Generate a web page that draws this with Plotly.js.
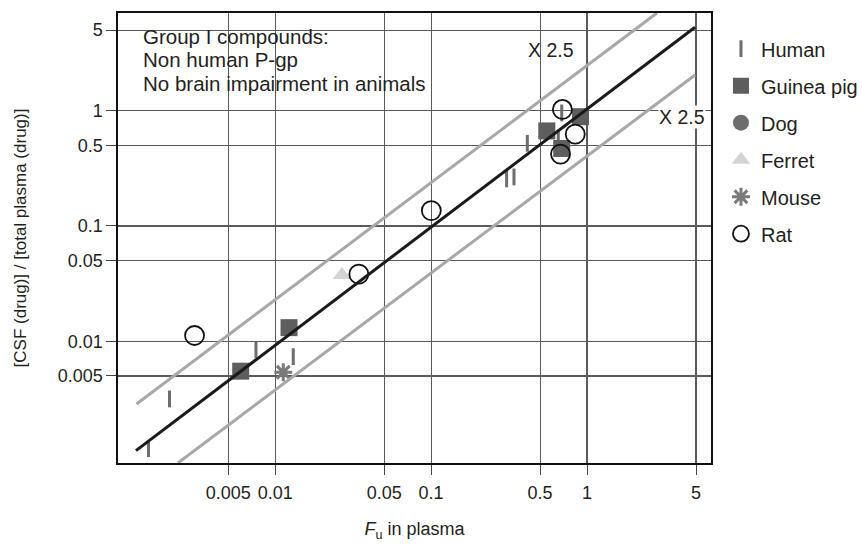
<!DOCTYPE html>
<html>
<head>
<meta charset="utf-8">
<script src="https://cdn.plot.ly/plotly-3.0.1.min.js"></script>
<style>
  html, body { margin: 0; padding: 0; background: #fff; }
  #chart { width: 862px; height: 544px; }
</style>
</head>
<body>
<div id="chart"></div>
<script>
// ---- Data ----
const tickVals = [0.005, 0.01, 0.05, 0.1, 0.5, 1, 5];
const tickText = ['0.005', '0.01', '0.05', '0.1', '0.5', '1', '5'];

const humanX = [0.00154, 0.00210, 0.00753, 0.01306, 0.305, 0.340, 0.414, 0.688, 0.654];
const humanY = [0.00117, 0.00316, 0.00841, 0.00735, 0.256, 0.266, 0.521, 0.955, 0.580];

const guineaX = [0.00601, 0.01227, 0.552, 0.908, 0.688];
const guineaY = [0.00550, 0.01312, 0.667, 0.887, 0.470];

const dogX = [null];
const dogY = [null];

const ferretX = [0.0268];
const ferretY = [0.0376];

const mouseX = [0.01127];
const mouseY = [0.00538];

const ratX = [0.00304, 0.0344, 0.1003, 0.695, 0.840, 0.676];
const ratY = [0.01122, 0.0382, 0.136, 1.024, 0.625, 0.420];

// unity line and x2.5 bands (end points)
const unityX = [0.00128, 4.93];
const unityY = [0.001125, 5.29];
const upperX = [0.00129, 2.81];
const upperY = [0.00286, 7.04];
const lowerX = [0.00238, 4.93];
const lowerY = [0.00088, 2.04];

const noteLines = ['Group I compounds:', 'Non human P-gp', 'No brain impairment in animals'];
const bandLabel = 'X 2.5';

const FONT = 'Liberation Sans, Arial, sans-serif';
const TXT = '#231f20';

const traces = [
  { name: 'Human', x: humanX, y: humanY, type: 'scatter', mode: 'markers', legendgroup: 'a',
    marker: { symbol: 'line-ns-open', size: 12, color: '#6d6d6d', line: { width: 3, color: '#6d6d6d' } } },
  { name: 'Guinea pig', x: guineaX, y: guineaY, type: 'scatter', mode: 'markers', legendgroup: 'b',
    marker: { symbol: 'square', size: 17, color: '#5e5e5e', line: { width: 0 } } },
  { name: 'Dog', x: dogX, y: dogY, type: 'scatter', mode: 'markers', legendgroup: 'c',
    marker: { symbol: 'circle', size: 16, color: '#6d6d6d', line: { width: 0 } } },
  { name: 'Ferret', x: ferretX, y: ferretY, type: 'scatter', mode: 'markers', legendgroup: 'd',
    marker: { symbol: 'triangle-up', size: 16, color: '#d4d4d4', line: { width: 0 } } },
  { name: 'Mouse', x: mouseX, y: mouseY, type: 'scatter', mode: 'markers', legendgroup: 'e',
    marker: { symbol: 'asterisk-open', size: 15, color: '#7a7a7a', line: { width: 3, color: '#7a7a7a' } } },
  { name: 'Rat', x: ratX, y: ratY, type: 'scatter', mode: 'markers', legendgroup: 'f',
    marker: { symbol: 'circle-open', size: 19, color: '#111', line: { width: 1.8, color: '#111' } } },
  { x: upperX, y: upperY, type: 'scatter', mode: 'lines', showlegend: false, hoverinfo: 'skip',
    line: { color: '#a8a8a8', width: 3 } },
  { x: lowerX, y: lowerY, type: 'scatter', mode: 'lines', showlegend: false, hoverinfo: 'skip',
    line: { color: '#a8a8a8', width: 3 } },
  { x: unityX, y: unityY, type: 'scatter', mode: 'lines', showlegend: false, hoverinfo: 'skip',
    line: { color: '#1a1a1a', width: 3 } }
];

const axisCommon = {
  type: 'log',
  tickvals: tickVals,
  ticktext: tickText,
  ticks: 'outside',
  ticklen: 10,
  tickwidth: 1,
  tickcolor: '#444',
  showgrid: true,
  gridcolor: '#5a5a5a',
  gridwidth: 1.1,
  showline: true,
  linecolor: '#111',
  linewidth: 1.6,
  mirror: true,
  zeroline: false,
  tickfont: { family: FONT, size: 18, color: TXT }
};

const noteY = [0.9476, 0.8956, 0.8436];

const layout = {
  width: 862,
  height: 544,
  margin: { l: 118, r: 151, t: 13, b: 81 },
  paper_bgcolor: '#fff',
  plot_bgcolor: '#fff',
  font: { family: FONT, color: TXT },
  showlegend: true,
  legend: {
    xref: 'container', yref: 'container',
    x: 0.8364, xanchor: 'left', y: 0.9463, yanchor: 'top',
    font: { family: FONT, size: 20, color: TXT },
    tracegroupgap: 8,
    bgcolor: 'rgba(0,0,0,0)',
    itemsizing: 'trace'
  },
  xaxis: Object.assign({}, axisCommon, {
    range: [-3.008, 0.795],
    ticklabelstandoff: 3,
    title: { text: '<i>F</i><sub>u</sub> in plasma', font: { family: FONT, size: 18, color: TXT }, standoff: 20 }
  }),
  yaxis: Object.assign({}, axisCommon, {
    range: [-3.056, 0.847],
    title: { text: '[CSF (drug)] / [total plasma (drug)]', font: { family: FONT, size: 17, color: TXT }, standoff: 27 }
  }),
  shapes: [
    { type: 'rect', xref: 'paper', yref: 'paper', x0: 0.0236, x1: 0.669, y0: 0.791, y1: 0.989,
      fillcolor: '#fff', line: { width: 0 }, layer: 'between' }
  ],
  annotations: noteLines.map((t, i) => ({
      xref: 'paper', yref: 'paper', x: 0.0388, y: noteY[i], xanchor: 'left', yanchor: 'middle',
      align: 'left', showarrow: false, text: t,
      font: { family: FONT, size: 20.5, color: TXT } })).concat([
    { xref: 'paper', yref: 'paper', x: 0.730, y: 0.918, xanchor: 'center', yanchor: 'middle',
      showarrow: false, text: bandLabel, font: { family: FONT, size: 19.5, color: TXT } },
    { xref: 'paper', yref: 'paper', x: 0.951, y: 0.769, xanchor: 'center', yanchor: 'middle',
      showarrow: false, text: bandLabel, bgcolor: '#fff', borderpad: 0,
      font: { family: FONT, size: 19.5, color: TXT } }
  ])
};

Plotly.newPlot('chart', traces, layout, { displayModeBar: false, staticPlot: true });
</script>
</body>
</html>
